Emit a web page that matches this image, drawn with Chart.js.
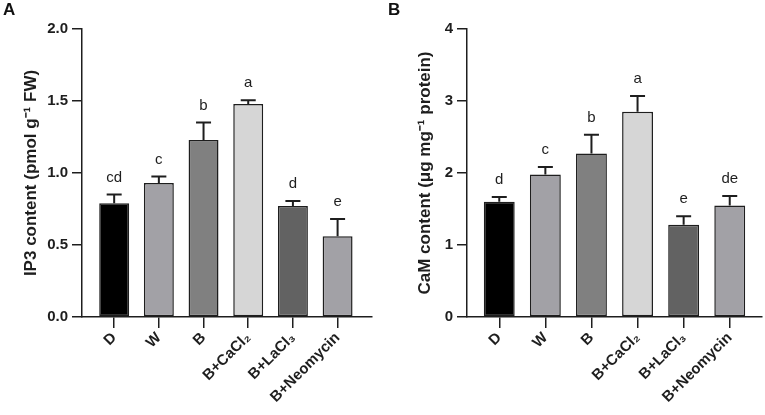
<!DOCTYPE html>
<html>
<head>
<meta charset="utf-8">
<script src="https://cdn.jsdelivr.net/npm/chart.js@4.4.1/dist/chart.umd.min.js"></script>
<style>
  html, body { margin: 0; padding: 0; background: #fff; }
  body { width: 765px; height: 415px; position: relative; overflow: hidden; font-family: Arial, "Liberation Sans", sans-serif; }
  .panel { position: absolute; top: 0; width: 380px; height: 415px; }
  .tag { position: absolute; top: 0px; font: bold 17px Arial, "Liberation Sans", sans-serif; color: #111; }
</style>
</head>
<body>
<div class="panel" style="left:0"><canvas id="chartA"></canvas></div>
<div class="panel" style="left:385px"><canvas id="chartB"></canvas></div>
<div class="tag" style="left:3px">A</div>
<div class="tag" style="left:388px">B</div>
<script>
// ---- data ----
const categories = ['D', 'W', 'B', 'B+CaCl\u2082', 'B+LaCl\u2083', 'B+Neomycin'];
const barColors = ['#000000', '#a2a1a6', '#808080', '#d6d6d6', '#626262', '#a2a1a6'];

const ip3Means   = [0.79, 0.93, 1.23, 1.48, 0.77, 0.56];
const ip3Errors  = [0.06, 0.045, 0.12, 0.025, 0.035, 0.12];
const ip3Letters = ['cd', 'c', 'b', 'a', 'd', 'e'];
const ip3Ticks   = [0, 0.5, 1.0, 1.5, 2.0];

const camMeans   = [1.60, 1.98, 2.27, 2.85, 1.28, 1.55];
const camErrors  = [0.065, 0.105, 0.26, 0.22, 0.12, 0.13];
const camLetters = ['d', 'c', 'b', 'a', 'e', 'de'];
const camTicks   = [0, 1, 2, 3, 4];

const INK = '#1e1e1e';
const FONT = 'Arial, "Liberation Sans", sans-serif';

const errorPlugin = {
  id: 'errorLetters',
  afterDatasetsDraw(chart, args, opts) {
    const ctx = chart.ctx;
    const xs = chart.scales.x, ys = chart.scales.y;
    ctx.save();
    ctx.strokeStyle = INK;
    ctx.lineWidth = 2;
    ctx.fillStyle = INK;
    ctx.font = '15px ' + FONT;
    ctx.textAlign = 'center';
    ctx.textBaseline = 'alphabetic';
    opts.means.forEach((m, i) => {
      const x = xs.getPixelForValue(i);
      const y0 = ys.getPixelForValue(m);
      const y1 = ys.getPixelForValue(m + opts.errors[i]);
      ctx.beginPath();
      ctx.moveTo(x, y0);
      ctx.lineTo(x, y1);
      ctx.moveTo(x - 7.5, y1);
      ctx.lineTo(x + 7.5, y1);
      ctx.stroke();
      ctx.fillText(opts.letters[i], x, y1 - 13);
    });
    ctx.restore();
  }
};

function makeChart(id, means, errors, letters, tickVals, title, fmt, xMin, xMax, padRight, titlePad) {
  const yMax = tickVals[tickVals.length - 1];
  return new Chart(document.getElementById(id), {
    type: 'bar',
    data: {
      datasets: [{
        data: means.map((v, i) => ({ x: i, y: v })),
        backgroundColor: barColors,
        borderColor: INK,
        borderWidth: 1.5,
        borderSkipped: false,
        barPercentage: 0.67,
        categoryPercentage: 1
      }]
    },
    options: {
      responsive: true,
      maintainAspectRatio: false,
      animation: false,
      layout: { padding: { top: 29, left: 0, right: padRight, bottom: 0 } },
      plugins: {
        legend: { display: false },
        tooltip: { enabled: false },
        errorLetters: { means: means, errors: errors, letters: letters }
      },
      scales: {
        x: {
          type: 'linear',
          offset: false,
          min: xMin,
          max: xMax,
          afterBuildTicks: (s) => { s.ticks = categories.map((c, i) => ({ value: i })); },
          afterFit: (s) => { s.height = 98; },
          border: { color: INK, width: 1.5 },
          grid: { offset: false, drawOnChartArea: false, drawTicks: true, tickLength: 11, color: INK, lineWidth: 1.5 },
          ticks: {
            autoSkip: false,
            minRotation: 45,
            maxRotation: 45,
            padding: 1,
            color: INK,
            font: { family: FONT, size: 15, weight: 'bold' },
            callback: (v) => categories[v]
          }
        },
        y: {
          min: 0,
          max: yMax,
          afterBuildTicks: (s) => { s.ticks = tickVals.map(v => ({ value: v })); },
          afterFit: (s) => { s.width = 82; },
          border: { color: INK, width: 1.5 },
          grid: { drawOnChartArea: false, drawTicks: true, tickLength: 10, color: INK, lineWidth: 1.5 },
          ticks: {
            padding: 4,
            color: INK,
            font: { family: FONT, size: 15, weight: 'bold' },
            callback: fmt
          },
          title: {
            display: true,
            text: title,
            color: INK,
            padding: { top: titlePad, bottom: 0 },
            font: { family: FONT, size: 17, weight: 'bold' }
          }
        }
      }
    },
    plugins: [errorPlugin]
  });
}

makeChart('chartA', ip3Means, ip3Errors, ip3Letters, ip3Ticks,
  'IP3 content (pmol g\u207B\u00B9 FW)', (v) => Number(v).toFixed(1), -0.72, 5.77, 8, 21);
makeChart('chartB', camMeans, camErrors, camLetters, camTicks,
  'CaM content (\u03BCg mg\u207B\u00B9 protein)', (v) => String(v), -0.7, 5.7, 3, 30);
</script>
</body>
</html>
